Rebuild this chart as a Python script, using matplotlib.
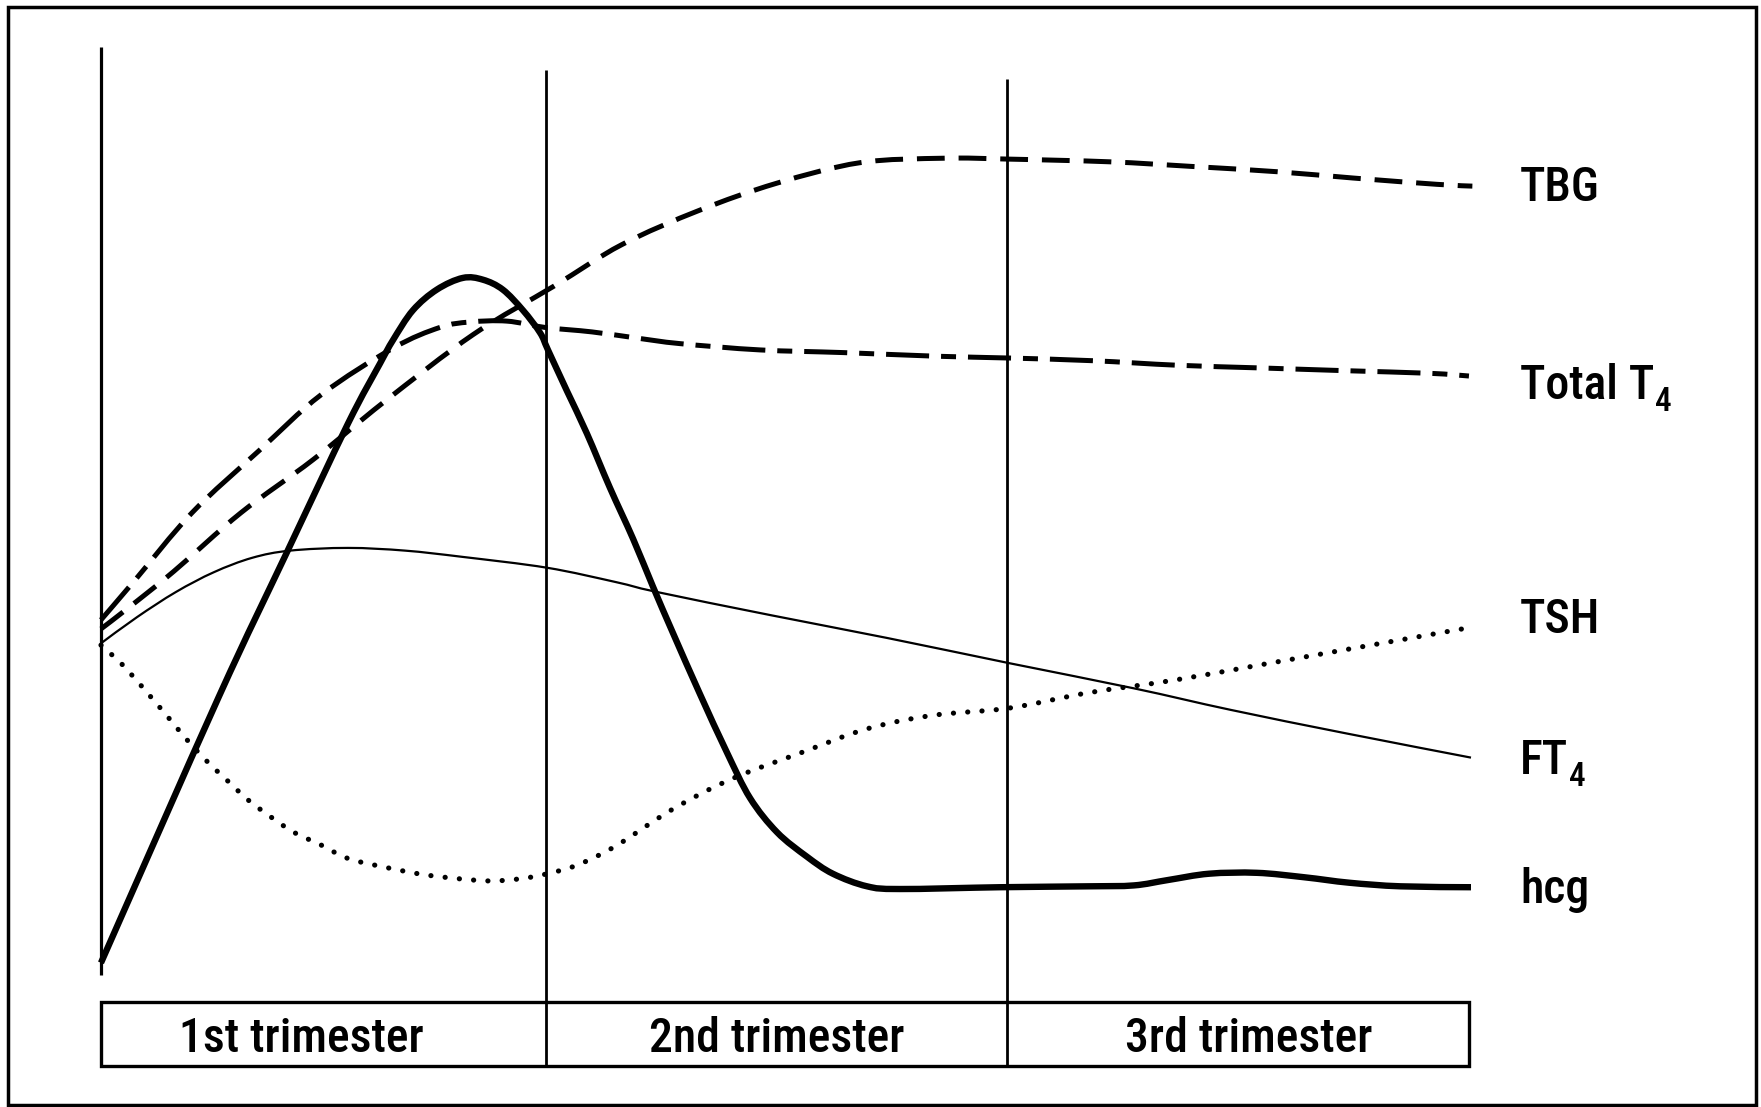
import matplotlib
matplotlib.use('Agg')
import matplotlib.pyplot as plt
from matplotlib.patches import Rectangle, PathPatch
from matplotlib.path import Path
from matplotlib import rcParams
from matplotlib import font_manager as fm

rcParams['lines.scale_dashes'] = False   # dash lengths given in points

# trimester boundaries (gestational weeks)
trimester_bounds = [0, 13, 26.5, 40]
trimester_names = ['1st trimester', '2nd trimester', '3rd trimester']

# relative levels (arbitrary units)
tbg_wk = [0, 0.82, 2.13, 4.09, 6.20, 8.27, 10.88, 13.25, 15.23, 17.49, 19.74,
          22.19, 24.65, 26.55, 29.50, 31.84, 34.39, 36.61, 39.06, 40.1]
tbg_lv = [39.9, 42.3, 46.3, 52.8, 58.7, 65.1, 72.6, 78.0, 82.6, 86.4, 89.4,
          91.7, 92.2, 92.1, 91.8, 91.3, 90.7, 90.0, 89.3, 89.1]

t4_wk = [0, 0.99, 2.66, 4.62, 6.43, 8.54, 9.91, 10.79, 11.87, 12.98, 14.36,
         15.70, 16.93, 19.27, 21.73, 24.42, 26.55, 29.01, 31.46, 33.89, 36.32,
         38.86, 40.0]
t4_lv = [40.9, 45.3, 52.8, 59.7, 65.9, 71.1, 73.4, 74.0, 74.1, 73.4, 72.9,
         72.2, 71.6, 70.9, 70.6, 70.2, 70.0, 69.7, 69.2, 68.9, 68.6, 68.3, 68.0]

tsh_wk = [0, 0.50, 0.85, 1.40, 1.96, 2.51, 3.07, 3.68, 4.30, 4.97, 5.64, 6.43,
          7.22, 8.33, 9.44, 10.58, 11.46, 12.37, 13.16, 13.95, 15.06, 16.73,
          18.48, 20.44, 22.40, 24.33, 26.55, 28.86, 31.37, 33.89, 36.40, 40.1]
tsh_lv = [38.1, 36.4, 35.0, 32.6, 30.1, 27.6, 25.3, 23.1, 20.9, 19.0, 17.3,
          15.9, 14.4, 13.4, 12.6, 12.1, 11.9, 12.2, 12.8, 13.7, 15.8, 19.9,
          23.3, 26.1, 28.8, 30.3, 31.1, 32.8, 34.2, 35.9, 37.6, 40.1]

ft4_wk = [0, 1.05, 2.19, 3.30, 4.42, 5.53, 7.22, 8.89, 10.58, 13.04, 15.06,
          16.26, 19.62, 22.98, 26.55, 30.20, 33.04, 36.40, 40.06]
ft4_lv = [38.3, 41.2, 44.0, 46.2, 47.8, 48.6, 48.9, 48.6, 47.9, 46.7, 45.1,
          44.0, 41.4, 38.9, 36.1, 33.3, 30.9, 28.3, 25.6]

hcg_wk = [0, 3.45, 5.41, 7.22, 8.16, 8.54, 9.12, 9.82, 10.58, 11.17, 11.75,
          12.34, 12.84, 13.07, 13.63, 14.21, 14.88, 15.56, 16.14, 16.73, 17.51,
          18.30, 18.98, 19.77, 20.64, 21.40, 22.40, 23.36, 26.29, 28.86, 30.20,
          31.20, 32.40, 33.80, 35.20, 36.50, 38.00, 40.06]
hcg_lv = [2.8, 32.4, 48.2, 62.7, 69.4, 72.0, 75.3, 77.6, 78.9, 78.7, 77.6,
          75.3, 72.8, 70.9, 66.3, 61.6, 55.6, 49.9, 44.6, 39.4, 32.7,
          26.2, 21.1, 17.3, 14.6, 12.7, 11.3, 11.0, 11.2, 11.3, 11.4,
          12.0, 12.7, 12.8, 12.3, 11.7, 11.3, 11.2]

curve_names = [('TBG', ''), ('Total T', '4'), ('TSH', ''), ('FT', '4'), ('hcg', '')]
curve_wk = [tbg_wk, t4_wk, tsh_wk, ft4_wk, hcg_wk]
curve_lv = [tbg_lv, t4_lv, tsh_lv, ft4_lv, hcg_lv]

# line styles, in the same order
styles = [
    dict(lw=3.6, ls=(0, (20, 10)), capstyle='butt'),
    dict(lw=3.6, ls=(0, (31, 8.6, 10.8, 8.6)), capstyle='butt'),
    dict(lw=3.7, ls=(0, (0.1, 10.2)), capstyle='round'),
    dict(lw=1.6, ls='-', capstyle='butt'),
    dict(lw=4.6, ls='-', capstyle='butt'),
]
label_nudge = [0.3, -0.6, 1.2, 0.1, 0.1]
bar_label_x = [5.85, 19.75, 33.55]


def pick_font():
    fonts = [f for f in fm.fontManager.ttflist if f.style == 'normal']
    for want in (500, 400):
        for f in fonts:
            if f.name.startswith('Roboto Condensed') and f.weight == want:
                return fm.FontProperties(fname=f.fname)
    for f in fonts:
        if 'RobotoCondensed-Medium' in f.fname:
            return fm.FontProperties(fname=f.fname)
    for f in fonts:
        narrow = ('Condensed' in f.name or 'Narrow' in f.name
                  or f.stretch in ('condensed', 'semi-condensed'))
        if narrow and f.weight in (400, 'normal', 'regular'):
            return fm.FontProperties(fname=f.fname)
    return fm.FontProperties(family='DejaVu Sans', stretch='condensed')


def smooth_path(x, y):
    # Catmull-Rom through the read points, drawn as cubic Bezier segments
    verts = [(x[0], y[0])]
    codes = [Path.MOVETO]
    n = len(x)
    for i in range(n - 1):
        x0, y0 = (x[i - 1], y[i - 1]) if i > 0 else (x[i], y[i])
        x1, y1 = x[i], y[i]
        x2, y2 = x[i + 1], y[i + 1]
        x3, y3 = (x[i + 2], y[i + 2]) if i + 2 < n else (x2, y2)
        verts += [(x1 + (x2 - x0) / 6, y1 + (y2 - y0) / 6),
                  (x2 - (x3 - x1) / 6, y2 - (y3 - y1) / 6),
                  (x2, y2)]
        codes += [Path.CURVE4] * 3
    return Path(verts, codes)


fp = pick_font()

fig = plt.figure(figsize=(17.61, 11.07), dpi=100)
ax = fig.add_axes([0, 0, 1, 1])
ax.set_xlim(-2.953, 48.54)
ax.set_ylim(-13.22, 109.78)
ax.axis('off')

# size the text so that it spans what the original does
renderer = fig.canvas.get_renderer()
probe = fig.text(0, 0, '1st trimester', fontproperties=fp, size=40)
box_size = 40 * 244 / probe.get_window_extent(renderer).width
probe.set_text('TBG')
label_size = 40 * 80 / probe.get_window_extent(renderer).width
probe.remove()

# trimester dividers
ax.vlines(trimester_bounds[0], 1.4, 104.6, color='k', lw=2.3)
ax.vlines(trimester_bounds[1], -8.67, 102.0, color='k', lw=2.0)
ax.vlines(trimester_bounds[2], -8.67, 101.0, color='k', lw=2.0)

for wk, lv, st, (name, sub), dy in zip(curve_wk, curve_lv, styles, curve_names, label_nudge):
    ax.add_patch(PathPatch(smooth_path(wk, lv), fill=False, ec='k', lw=st['lw'],
                           ls=st['ls'], capstyle=st['capstyle'], joinstyle='round'))
    t = ax.text(41.5, lv[-1] - 1.9 + dy, name, fontproperties=fp, size=label_size,
                va='baseline', ha='left')
    if sub:
        ax.annotate(sub, xy=(1, 0), xycoords=t, xytext=(0.5, -1.5), textcoords='offset points',
                    fontproperties=fp, size=label_size * 0.7, va='baseline', ha='left')

# trimester bar
ax.add_patch(Rectangle((trimester_bounds[0], -8.67),
                       trimester_bounds[-1] - trimester_bounds[0], 7.11,
                       fill=False, lw=2.4, ec='k'))
for x, name in zip(bar_label_x, trimester_names):
    ax.text(x, -7.1, name, fontproperties=fp, size=box_size,
            ha='center', va='baseline')

# outer frame
fig.add_artist(Rectangle((8 / 1761, 2 / 1107), 1748 / 1761, 1098 / 1107,
                         transform=fig.transFigure, fill=False, lw=2.5, ec='k'))

fig.savefig('out.png', dpi=100)
